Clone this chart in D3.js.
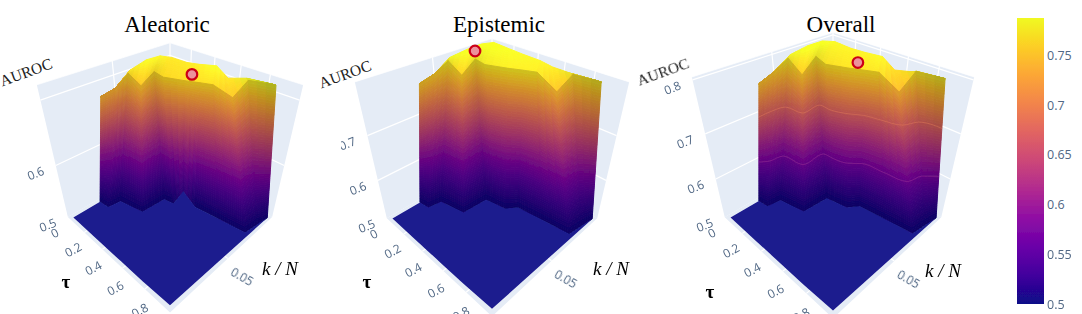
<!DOCTYPE html>
<html>
<head>
<meta charset="utf-8">
<script src="https://cdn.jsdelivr.net/npm/d3@7"></script>
<style>
  html, body { margin: 0; padding: 0; background: #fff; overflow: hidden; }
  svg { display: block; }
</style>
</head>
<body>
<div id="chart"></div>
<script>
// the surface is one mesh shared by all panels, only the heights change
const floorTau = [0.03, 0.115, 0.13, 0.325, 0.34, 0.42, 0.5, 0.555, 0.75, 0.97, 0.97, 0.97];
const floorK = [0.0025, 0.0025, 0.0025, 0.0025, 0.0025, 0.0025, 0.0025, 0.0025, 0.0025, 0.003, 0.003, 0.003];
const footTau = [0.03, 0.115, 0.13, 0.325, 0.34, 0.42, 0.5, 0.555, 0.75, 0.95, 0.965, 0.98];
const footK = [0.025, 0.026, 0.036, 0.04, 0.06, 0.0615, 0.063, 0.07, 0.0725, 0.075, 0.086, 0.097];
const ridgeTau = [0.064, 0.03, 0.045, 0.161, 0.141, 0.23, 0.365, 0.45, 0.524, 0.65, 0.675, 0.856];
const ridgeK = [0.0345, 0.048, 0.058, 0.0584, 0.0715, 0.071, 0.0765, 0.0807, 0.084, 0.0875, 0.098, 0.098];
const backTau = [0.064, 0.03, 0.03, 0.03, 0.03, 0.054, 0.194, 0.3, 0.438, 0.54, 0.673, 0.856];
const backK = [0.0345, 0.048, 0.061, 0.075, 0.0875, 0.0962, 0.0965, 0.0973, 0.0974, 0.0966, 0.0963, 0.098];

const aleatoricFoot = [0.5, 0.5, 0.5, 0.5, 0.5, 0.5, 0.535, 0.5, 0.5, 0.5, 0.5, 0.5];
const aleatoricRidge = [0.683, 0.683, 0.7, 0.689, 0.7, 0.698, 0.698, 0.698, 0.698, 0.686, 0.705, 0.711];
const aleatoricBack = [0.683, 0.683, 0.702, 0.709, 0.708, 0.702, 0.702, 0.705, 0.711, 0.7, 0.709, 0.711];

const epistemicFoot = [0.5, 0.5, 0.5, 0.5, 0.5, 0.5, 0.5, 0.5, 0.5, 0.5, 0.5, 0.5];
const epistemicRidge = [0.7695, 0.7726, 0.791, 0.7726, 0.791, 0.788, 0.788, 0.788, 0.788, 0.76, 0.785, 0.788];
const epistemicBack = [0.7695, 0.7726, 0.794, 0.7986, 0.8, 0.7986, 0.7955, 0.7925, 0.791, 0.788, 0.788, 0.788];

const overallFoot = [0.5, 0.5, 0.5, 0.5, 0.5, 0.5, 0.5, 0.5, 0.5, 0.5, 0.5, 0.5];
const overallRidge = [0.765, 0.771, 0.79, 0.768, 0.79, 0.783, 0.783, 0.783, 0.783, 0.755, 0.786, 0.79];
const overallBack = [0.765, 0.771, 0.793, 0.799, 0.799, 0.793, 0.79, 0.79, 0.793, 0.777, 0.786, 0.79];

const panelTitles = ["Aleatoric", "Epistemic", "Overall"];
const panelZTop = [0.72, 0.8, 0.805];
const panelColorTop = [0.711, 0.797, 0.797];
const panelGridTicks = [[0.6, 0.7], [0.6, 0.7], [0.6, 0.7, 0.8]];
const panelZTicks = [[0.5, 0.6], [0.5, 0.6, 0.7], [0.5, 0.6, 0.7, 0.8]];
const peakTau = [0.378, 0.0665, 0.339];
const peakK = [0.0812, 0.0782, 0.087];
const peakAuroc = [0.705, 0.7955, 0.782];

const tauTicks = [0, 0.2, 0.4, 0.6, 0.8];
const kTicks = [0, 0.05];
const kLabelTicks = [0.05];
const colorTicks = [0.5, 0.55, 0.6, 0.65, 0.7, 0.75];
const colorDomain = [0.5, 0.7877];

// camera, and where every panel sits on the page
const view = [
  { cx: 170, cy: 159.7, f: 354, title: 167, auroc: [26, 72], tau: [66, 288], kn: [280, 275] },
  { cx: 492, cy: 159, f: 364.6, title: 499, auroc: [345, 74], tau: [367, 288], kn: [611, 275] },
  { cx: 833, cy: 156.3, f: 375.2, title: 841, auroc: [663, 72], tau: [710, 298], kn: [943, 277] },
];
const D = 4.33;
const elev = (35.7 * Math.PI) / 180;
const cosE = Math.cos(elev);
const sinE = Math.sin(elev);
const halfZ = 0.979;

// lighting: the wall is darker than the plateau, with a crease along the ridge
const wallTopShade = [0.8, 0.82, 0.8, 0.86, 0.78, 0.82, 0.84, 0.84, 0.84, 0.88, 0.8, 0.72];
const plateauFrontShade = [0.8, 0.84, 0.92, 1.04, 0.92, 1, 1.04, 1.04, 1.04, 1.08, 0.95, 0.72];
const backShade = [0.8, 0.84, 1, 1.04, 1.04, 1.04, 1.04, 1.04, 1.04, 1.04, 0.95, 0.74];
const footShade = 0.74;
const colorGamma = 1.3;
const floorColor = "#1b1a8e";

const width = 1082;
const height = 314;
const svg = d3.select("#chart").append("svg").attr("width", width).attr("height", height);
const defs = svg.append("defs");
defs.append("filter").attr("id", "soft").append("feGaussianBlur").attr("stdDeviation", 0.6);
defs.append("filter").attr("id", "softer").append("feGaussianBlur").attr("stdDeviation", 0.3);

const tauScale = d3.scaleLinear().domain([0, 1]).range([0, 1]);
const kScale = d3.scaleLinear().domain([0, 0.1]).range([0, 1]);

function makeProjection(i) {
  const v = view[i];
  const zScale = d3.scaleLinear().domain([0.5, panelZTop[i]]).range([-halfZ, halfZ]);
  return (tau, k, z) => {
    const p = tauScale(tau);
    const q = kScale(k);
    const Z = zScale(z);
    const u = Math.SQRT2 * (p + q - 1);
    const d = Math.SQRT2 * (p - q);
    const dist = D - d * cosE - Z * sinE;
    return [v.cx + (v.f * u) / dist, v.cy - (v.f * (Z * cosE - d * sinE)) / dist, dist];
  };
}

function lerp(a, b, t) {
  return a + (b - a) * t;
}

function mix(a, b, c, d, s, t) {
  return lerp(lerp(a, b, s), lerp(c, d, s), t);
}

function shaded(color, shade) {
  const c = d3.rgb(color);
  return d3.rgb(Math.min(255, c.r * shade), Math.min(255, c.g * shade), Math.min(255, c.b * shade)).formatHex();
}

// splits one mesh cell into small flat pieces so the colour follows the height
function cellPieces(a, b, c, d, nx, ny, project, colorOf) {
  const out = [];
  const at = (s, t) => ({
    tau: mix(a.tau, b.tau, c.tau, d.tau, s, t),
    k: mix(a.k, b.k, c.k, d.k, s, t),
    z: mix(a.z, b.z, c.z, d.z, s, t),
    shade: mix(a.shade, b.shade, c.shade, d.shade, s, t),
  });
  for (let x = 0; x < nx; x++) {
    for (let y = 0; y < ny; y++) {
      const corners = [at(x / nx, y / ny), at((x + 1) / nx, y / ny), at((x + 1) / nx, (y + 1) / ny), at(x / nx, (y + 1) / ny)];
      const pts = corners.map((v) => project(v.tau, v.k, v.z));
      const mid = at((x + 0.5) / nx, (y + 0.5) / ny);
      out.push({ pts, depth: d3.mean(pts, (v) => v[2]), color: colorOf(mid) });
    }
  }
  return out;
}

const line = d3.line();

function drawPanel(i, footZ, ridgeZ, backZ) {
  const v = view[i];
  const project = makeProjection(i);
  const zTop = panelZTop[i];
  const g = svg.append("g").attr("class", "panel");
  const scene = g.append("g").attr("filter", "url(#softer)");
  const poly = (pts, fill) => scene.append("path").attr("d", line(pts) + "Z").attr("fill", fill);
  const grid = (pts, w = 1.2) => scene.append("path").attr("d", line(pts)).attr("fill", "none").attr("stroke", "#fff").attr("stroke-width", w);

  // box walls and floor
  poly([project(0, 0, 0.5), project(0, 0.1, 0.5), project(0, 0.1, zTop), project(0, 0, zTop)], "#e5ecf6");
  poly([project(0, 0.1, 0.5), project(1, 0.1, 0.5), project(1, 0.1, zTop), project(0, 0.1, zTop)], "#e5ecf6");
  poly([project(0, 0, 0.5), project(1, 0, 0.5), project(1, 0.1, 0.5), project(0, 0.1, 0.5)], "#e5ecf6");

  panelGridTicks[i].forEach((t) => {
    grid([project(0, 0, t), project(0, 0.1, t), project(1, 0.1, t)]);
  });
  tauTicks.slice(1).forEach((t) => {
    grid([project(t, 0, 0.5), project(t, 0.1, 0.5), project(t, 0.1, zTop)]);
  });
  kTicks.slice(1).forEach((t) => {
    grid([project(1, t, 0.5), project(0, t, 0.5), project(0, t, zTop)]);
  });
  grid([project(0, 0, zTop), project(0, 0.1, zTop), project(1, 0.1, zTop)], 0.7);
  grid([project(0, 0.1, 0.5), project(0, 0.1, zTop)]);

  // surface
  const surface = g.append("g").attr("filter", "url(#soft)");
  const color = d3.scaleSequential(d3.interpolatePlasma).domain([0, 1]);
  const colorT = d3.scaleLinear().domain([0.5, panelColorTop[i]]).range([0, 1]).clamp(true);
  const vertex = (tau, k, z, shade) => tau.map((d, c) => ({ tau: d, k: k[c], z: z[c], shade: shade[c] }));
  const foot = vertex(footTau, footK, footZ, footTau.map(() => footShade));
  const wallTop = vertex(ridgeTau, ridgeK, ridgeZ, wallTopShade);
  const plateauFront = vertex(ridgeTau, ridgeK, ridgeZ, plateauFrontShade);
  const back = vertex(backTau, backK, backZ, backShade);
  const floor = vertex(floorTau, floorK, footTau.map(() => 0.5), footTau.map(() => 1));
  const colorOf = (m) => shaded(color(Math.pow(colorT(m.z), colorGamma)), m.shade);

  let wallPieces = [];
  let plateauPieces = [];
  for (let c = 0; c < foot.length - 1; c++) {
    wallPieces = wallPieces.concat(cellPieces(foot[c], foot[c + 1], wallTop[c], wallTop[c + 1], 3, 60, project, colorOf));
    plateauPieces = plateauPieces.concat(cellPieces(plateauFront[c], plateauFront[c + 1], back[c], back[c + 1], 3, 10, project, colorOf));
  }
  wallPieces.sort((a, b) => b.depth - a.depth);
  surface
    .append("g")
    .selectAll("path")
    .data(plateauPieces.concat(wallPieces))
    .join("path")
    .attr("d", (d) => line(d.pts) + "Z")
    .attr("fill", (d) => d.color)
    .attr("stroke", (d) => d.color)
    .attr("stroke-width", 1);

  const floorPts = floor.concat(foot.slice().reverse()).map((d) => project(d.tau, d.k, d.z).slice(0, 2));
  surface.append("path").attr("d", line(floorPts) + "Z").attr("fill", floorColor);

  // the overall panel shows its contour lines on the wall
  if (i === 2) {
    [[0.7, "#f08a5c"], [0.6, "#b5479e"]].forEach(([level, stroke]) => {
      const pts = foot.map((d, c) => {
        const r = wallTop[c];
        const t = (level - d.z) / (r.z - d.z);
        return project(lerp(d.tau, r.tau, t), lerp(d.k, r.k, t), level).slice(0, 2);
      });
      surface.append("path").attr("d", d3.line().curve(d3.curveMonotoneX)(pts)).attr("fill", "none").attr("stroke", stroke).attr("stroke-opacity", 0.45).attr("stroke-width", 0.8);
    });
  }

  // best point
  const peak = project(peakTau[i], peakK[i], peakAuroc[i]);
  g.append("circle")
    .attr("cx", peak[0])
    .attr("cy", peak[1])
    .attr("r", 5.3)
    .attr("fill", "#ec929c")
    .attr("stroke", "#cc0018")
    .attr("stroke-width", 2.2)
    .attr("filter", "url(#softer)");

  // tick labels
  const labels = g.append("g").attr("font-family", "'Open Sans'").attr("font-size", 12).attr("fill", "#506784").attr("text-anchor", "middle").attr("filter", "url(#softer)");
  if (i === 1) {
    defs.append("clipPath").attr("id", "clip-mid").append("rect").attr("x", 341).attr("y", 0).attr("width", 340).attr("height", height);
    labels.attr("clip-path", "url(#clip-mid)");
  }
  const label = (pt, dx, dy, angle, text) => {
    const x = pt[0] + dx;
    const y = pt[1] + dy;
    labels.append("text").attr("transform", `translate(${x},${y}) rotate(${angle})`).attr("dy", "0.35em").text(text);
  };
  panelZTicks[i].forEach((t) => label(project(0, 0, t), -20, 8, -22, t));
  tauTicks.forEach((t) => label(project(t, 0, 0.5), -13 + 10 * t, 16 + 7 * t, -28, t));
  kLabelTicks.forEach((t) => label(project(1, t, 0.5), 14, 18.5, 30, t));

  // titles
  const serif = "'Liberation Serif'";
  g.append("text").attr("x", v.title).attr("y", 32).attr("text-anchor", "middle").attr("font-family", serif).attr("font-size", 23).attr("fill", "#000").text(panelTitles[i]);
  g.append("text").attr("transform", `translate(${v.auroc[0]},${v.auroc[1]}) rotate(-20)`).attr("text-anchor", "middle").attr("dy", "0.35em").attr("font-family", serif).attr("font-size", 15.5).attr("fill", "#222").text("AUROC");
  g.append("text").attr("x", v.tau[0]).attr("y", v.tau[1]).attr("text-anchor", "middle").attr("font-family", serif).attr("font-weight", "bold").attr("font-size", 19).attr("fill", "#000").text("τ");
  g.append("text").attr("x", v.kn[0]).attr("y", v.kn[1]).attr("text-anchor", "middle").attr("font-family", serif).attr("font-style", "italic").attr("font-size", 19).attr("fill", "#000").text("k / N");
}

drawPanel(0, aleatoricFoot, aleatoricRidge, aleatoricBack);
drawPanel(1, epistemicFoot, epistemicRidge, epistemicBack);
drawPanel(2, overallFoot, overallRidge, overallBack);

// colour bar
const barY = d3.scaleLinear().domain(colorDomain).range([304, 18]);
const barColor = d3.scaleSequential(d3.interpolatePlasma).domain(colorDomain);
const gradient = defs.append("linearGradient").attr("id", "bar").attr("x1", 0).attr("x2", 0).attr("y1", 1).attr("y2", 0);
d3.range(0, 1.01, 0.1).forEach((t) => {
  gradient.append("stop").attr("offset", t).attr("stop-color", barColor(lerp(colorDomain[0], colorDomain[1], t)));
});
svg.append("rect").attr("x", 1017).attr("y", 18).attr("width", 27).attr("height", 286).attr("fill", "url(#bar)").attr("filter", "url(#softer)");
const barAxis = svg
  .append("g")
  .attr("transform", "translate(1044,0)")
  .call(d3.axisRight(barY).tickValues(colorTicks).tickSize(0).tickPadding(3).tickFormat((d) => d));
barAxis.select(".domain").remove();
barAxis.selectAll("text").attr("font-family", "'Open Sans'").attr("font-size", 12.5).attr("fill", "#506784");
</script>
</body>
</html>
